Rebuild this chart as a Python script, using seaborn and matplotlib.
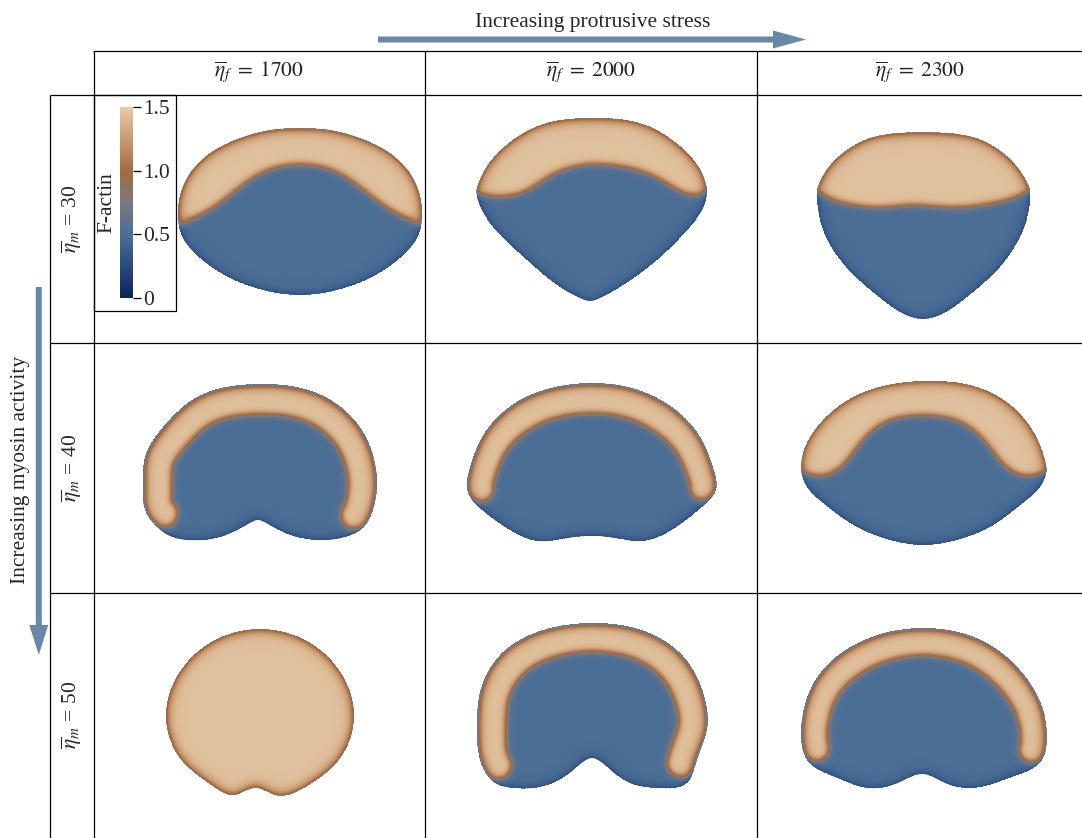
import numpy as np
import matplotlib
matplotlib.use("Agg")
import matplotlib.pyplot as plt
import seaborn as sns
from matplotlib.path import Path
from matplotlib.patches import Rectangle, FancyArrow
from matplotlib.cm import ScalarMappable
from matplotlib.colors import Normalize

sns.set_theme(style="white")
plt.rcParams["font.family"] = ["Liberation Serif", "DejaVu Serif"]
plt.rcParams["mathtext.fontset"] = "stix"

# ---------------------------------------------------------------- parameters
eta_f = [1700, 2000, 2300]          # protrusive stress (columns)
eta_m = [30, 40, 50]                # myosin activity (rows)
cbar_ticks = [0, 0.5, 1.0, 1.5]
cbar_ticklabels = ["0", "0.5", "1.0", "1.5"]
actin_front = 1.45                  # F-actin level in the protrusive region
actin_rear = 0.5                    # F-actin level in the cell body

# steady-state cell outlines (panel-local units, y downwards);
# corner_* lists the indices of pointed tips
outline_30_1700 = [(207, 34), (237, 36), (267, 44), (297, 59), (317, 79), (324, 92),
                   (329, 122), (324, 143), (307, 163), (277, 183), (244, 195), (207, 200),
                   (170, 195), (137, 183), (107, 163), (90, 143), (85, 122), (90, 92),
                   (97, 79), (117, 59), (147, 44), (177, 36)]
corner_30_1700 = [6, 16]
outline_30_2000 = [(167, 24), (218, 30), (255, 52), (275, 75), (282, 95), (279, 112),
                   (265, 132), (232, 165), (195, 192), (175, 203), (165, 206), (155, 203),
                   (135, 192), (102, 165), (68, 132), (55, 112), (51, 97), (62, 72),
                   (85, 48), (118, 30)]
corner_30_2000 = [4, 16]
outline_30_2300 = [(166, 38), (191, 39), (216, 43), (241, 55), (258, 70), (273, 95),
                   (272, 115), (263, 142), (243, 172), (210, 202), (183, 220), (166, 224),
                   (149, 220), (122, 202), (89, 172), (69, 142), (61, 115), (60, 95),
                   (74, 70), (91, 55), (116, 43), (141, 39)]
corner_30_2300 = [5, 17]
outline_40_1700 = [(165, 41), (224, 50), (264, 80), (282, 120), (284, 144), (280, 167),
                   (270, 185), (252, 194), (234, 197), (204, 194), (180, 184), (169, 178),
                   (165, 177), (161, 178), (150, 184), (127, 194), (94, 197), (77, 193),
                   (64, 184), (52, 167), (50, 144), (52, 114), (70, 84), (104, 54)]
corner_40_1700 = []
outline_40_2000 = [(167, 40), (203, 44), (247, 64), (277, 97), (288, 124), (291, 147),
                   (277, 164), (257, 180), (217, 198), (190, 195), (167, 193), (143, 195),
                   (113, 198), (80, 184), (57, 167), (43, 150), (45, 124), (57, 94),
                   (90, 60), (130, 44)]
corner_40_2000 = []
outline_40_2300 = [(166, 38), (233, 49), (266, 74), (286, 110), (290, 127), (283, 144),
                   (266, 160), (233, 184), (200, 197), (166, 202), (133, 197), (100, 184),
                   (66, 160), (50, 144), (44, 127), (46, 110), (66, 77), (100, 52)]
corner_40_2300 = [4, 14]
outline_50_1700 = [(261, 126), (248, 82), (214, 50), (167, 38), (120, 50), (86, 82),
                   (73, 126), (86, 165), (118, 193), (142, 203), (162, 196), (182, 203),
                   (216, 193), (248, 165)]
corner_50_1700 = []
outline_50_2000 = [(167, 32), (222, 41), (258, 65), (278, 101), (282, 138), (272, 168),
                   (262, 191), (232, 196), (205, 191), (182, 175), (171, 167), (167, 166),
                   (163, 167), (152, 175), (128, 191), (88, 196), (70, 191), (55, 168),
                   (52, 138), (55, 101), (78, 61), (112, 41)]
corner_50_2000 = []
outline_50_2300 = [(165, 37), (228, 51), (268, 85), (286, 118), (290, 145), (285, 168),
                   (255, 185), (215, 196), (188, 191), (171, 183), (165, 182), (159, 183),
                   (141, 191), (111, 196), (78, 185), (50, 168), (44, 145), (46, 121),
                   (61, 85), (95, 55)]
corner_50_2300 = []

# rear edge of the F-actin cap for the low-myosin cells (x, y)
inner_30_1700 = [(84, 130), (97, 125), (117, 115), (144, 95), (170, 78), (207, 70),
                 (244, 78), (270, 95), (297, 115), (317, 125), (330, 130)]
inner_30_2000 = [(49, 99), (62, 101), (75, 102), (86, 101), (100, 97), (118, 86),
                 (140, 75), (167, 70), (195, 72), (222, 79), (245, 91), (265, 100),
                 (275, 100), (284, 96)]
inner_30_2300 = [(58, 97), (75, 105), (93, 110), (126, 113), (153, 111), (193, 113),
                 (230, 110), (255, 104), (275, 96)]
inner_40_2300 = [(42, 128), (66, 132), (83, 124), (100, 104), (126, 80), (166, 72),
                 (206, 80), (233, 104), (250, 124), (266, 132), (292, 128)]

# F-actin band along the leading edge for the higher-myosin cells:
# angular extent (degrees) and band thickness along it
front_40_1700, thick_40_1700 = (-28, 208), [28, 30, 30, 30, 28]
front_40_2000, thick_40_2000 = (-12, 192), [26, 30, 30, 30, 26]
front_50_1700, thick_50_1700 = (-90, 270), [250]
front_50_2000, thick_50_2000 = (-29, 211), [28, 30, 28, 30, 28]
front_50_2300, thick_50_2300 = (-18, 198), [26, 28, 27, 28, 26]

outlines = [[outline_30_1700, outline_30_2000, outline_30_2300],
            [outline_40_1700, outline_40_2000, outline_40_2300],
            [outline_50_1700, outline_50_2000, outline_50_2300]]
corners = [[corner_30_1700, corner_30_2000, corner_30_2300],
           [corner_40_1700, corner_40_2000, corner_40_2300],
           [corner_50_1700, corner_50_2000, corner_50_2300]]
caps = {(0, 0): inner_30_1700, (0, 1): inner_30_2000, (0, 2): inner_30_2300,
        (1, 2): inner_40_2300}
bands = {(1, 0): (front_40_1700, thick_40_1700), (1, 1): (front_40_2000, thick_40_2000),
         (2, 0): (front_50_1700, thick_50_1700), (2, 1): (front_50_2000, thick_50_2000),
         (2, 2): (front_50_2300, thick_50_2300)}

cmap = sns.blend_palette(["#0a2456", "#2b4b7d", "#4b6e97", "#7c797e",
                          "#a46a40", "#c99a70", "#e6cba9"], as_cmap=True)
norm = Normalize(0, 1.5)
arrow_col = "#6888a7"


def _spline_eval(P, M, h, n):
    out = []
    for i in range(len(h)):
        t = np.linspace(0, h[i], n, endpoint=False)[:, None]
        hi = h[i]
        s = (M[i] * (hi - t) ** 3 / (6 * hi) + M[i + 1] * t ** 3 / (6 * hi)
             + (P[i] / hi - M[i] * hi / 6) * (hi - t) + (P[i + 1] / hi - M[i + 1] * hi / 6) * t)
        out.append(s)
    return np.vstack(out)


def spline_open(pts, n=20, runout=False):
    P = np.asarray(pts, float)
    k = len(P)
    h = np.hypot(*np.diff(P, axis=0).T)
    A = np.zeros((k, k))
    B = np.zeros((k, 2))
    A[0, 0] = A[-1, -1] = 1
    if runout and k > 3:
        A[0, 1] = A[-1, -2] = -1
    for i in range(1, k - 1):
        A[i, i - 1], A[i, i], A[i, i + 1] = h[i - 1], 2 * (h[i - 1] + h[i]), h[i]
        B[i] = 6 * ((P[i + 1] - P[i]) / h[i] - (P[i] - P[i - 1]) / h[i - 1])
    M = np.linalg.solve(A, B)
    return np.vstack([_spline_eval(P, M, h, n), P[-1:]])


def spline_closed(pts, n=20):
    P = np.asarray(pts, float)
    k = len(P)
    Pn = np.vstack([P, P[:1]])
    h = np.hypot(*np.diff(Pn, axis=0).T)
    A = np.zeros((k, k))
    B = np.zeros((k, 2))
    for i in range(k):
        hp, hc = h[i - 1], h[i]
        A[i, (i - 1) % k] += hp
        A[i, i] += 2 * (hp + hc)
        A[i, (i + 1) % k] += hc
        B[i] = 6 * ((P[(i + 1) % k] - P[i]) / hc - (P[i] - P[i - 1]) / hp)
    M = np.linalg.solve(A, B)
    return _spline_eval(Pn, np.vstack([M, M[:1]]), h, n)


def outline_curve(pts, tips):
    if not tips:
        return spline_closed(pts)
    k = len(pts)
    tips = sorted(tips)
    pieces = []
    for j, a in enumerate(tips):
        b = tips[(j + 1) % len(tips)]
        idx = list(range(a, b + 1)) if b > a else list(range(a, k)) + list(range(0, b + 1))
        pieces.append(spline_open([pts[i] for i in idx], runout=True)[:-1])
    return np.vstack(pieces)


def min_dist(G, Q, R=None, step=4000):
    out = np.empty(len(G))
    for s in range(0, len(G), step):
        d = np.sqrt(((G[s:s + step, None, :] - Q[None]) ** 2).sum(-1))
        if R is not None:
            d = d - R[None]
        out[s:s + step] = d.min(1)
    return out


def actin_field(outline, tips, w, h, cap=None, band=None):
    P = outline_curve(outline, tips)
    path = Path(P)
    X, Y = np.meshgrid(np.arange(w) + 0.5, np.arange(h) + 0.5)
    G = np.column_stack([X.ravel(), Y.ravel()])
    inside = path.contains_points(G)
    sd = np.where(inside, 1, -1) * min_dist(G, P)
    if cap is not None:
        Q = spline_open(cap)
        order = np.argsort(Q[:, 0])
        gy = np.interp(G[:, 0], Q[order, 0], Q[order, 1])
        d_band = min_dist(G, Q) * np.where(G[:, 1] < gy, -1, 1)
    else:
        front, thick = band
        x, y = P[:, 0], P[:, 1]
        cross = x * np.roll(y, -1) - np.roll(x, -1) * y
        area = cross.sum() / 2
        cx = ((x + np.roll(x, -1)) * cross).sum() / (6 * area)
        cy = ((y + np.roll(y, -1)) * cross).sum() / (6 * area)
        T = np.roll(P, -1, 0) - np.roll(P, 1, 0)
        nrm = np.column_stack([T[:, 1], -T[:, 0]]) / np.hypot(T[:, 0], T[:, 1])[:, None]
        flip = ~path.contains_points(P + 3 * nrm)
        nrm[flip] *= -1
        a0, a1 = front
        phi = np.degrees(np.arctan2(-(y - cy), x - cx))
        phi = (phi - a0) % 360 + a0
        sel = phi <= a1
        u = (phi[sel] - a0) / (a1 - a0)
        wid = np.interp(u, np.linspace(0, 1, len(thick)), thick)
        C = P[sel] + nrm[sel] * wid[:, None] / 2
        d_band = min_dist(G, C, wid / 2)
    frac = 1 / (1 + np.exp(np.clip(d_band / 2.0, -50, 50)))
    v = actin_rear + (actin_front - actin_rear) * frac
    v = v * (1 - 0.45 * np.exp(-np.clip(sd, 0, None) / 4.0))
    alpha = np.clip(sd + 0.5, 0, 1)
    return v.reshape(h, w), alpha.reshape(h, w)


W, H = 1082, 838
fig = plt.figure(figsize=(W / 100, H / 100), dpi=100)
fig.patch.set_facecolor("white")


def px_axes(x0, y0, w, h):
    return fig.add_axes([x0 / W, 1 - (y0 + h) / H, w / W, h / H])


col_x = [93, 425, 757]
col_w = [332, 332, 325]
row_y = [95, 343, 592]
row_h = [248, 249, 246]

for r in range(3):
    for c in range(3):
        w, h = col_w[c], row_h[r]
        ax = px_axes(col_x[c], row_y[r], w, h)
        v, a = actin_field(outlines[r][c], corners[r][c], w, h,
                           cap=caps.get((r, c)), band=bands.get((r, c)))
        rgba = cmap(norm(v))
        rgba[..., 3] = a
        ax.imshow(rgba, extent=(0, w, h, 0), interpolation="nearest", aspect="auto")
        ax.set_xlim(0, w)
        ax.set_ylim(h, 0)
        ax.axis("off")

# table frame, headers and arrows
ov = fig.add_axes([0, 0, 1, 1])
ov.set_xlim(0, W)
ov.set_ylim(H, 0)
ov.axis("off")
ov.patch.set_alpha(0)
lk = dict(color="black", lw=0.9, solid_capstyle="butt")
ov.plot([93, W], [51, 51], **lk)
for yy in [95.5, 343.5, 592.5]:
    ov.plot([50, W], [yy, yy], **lk)
ov.plot([50, 50], [95.5, H], **lk)
for xx in [93.5, 425, 757]:
    ov.plot([xx, xx], [51, H], **lk)

fs = 15.5
for c, val in enumerate(eta_f):
    ov.text(col_x[c] + col_w[c] / 2, 72, r"$\overline{\eta}_f \;=\; %d$" % val,
            ha="center", va="center", fontsize=fs)
for r, val in enumerate(eta_m):
    ov.text(72, row_y[r] + row_h[r] / 2, r"$\overline{\eta}_m$ = %d" % val,
            ha="center", va="center", rotation=90, fontsize=fs)

ov.text(593, 22, "Increasing protrusive stress", ha="center", va="center", fontsize=fs)
ov.text(21, 470, "Increasing myosin activity", ha="center", va="center",
        rotation=90, fontsize=fs)
ov.add_patch(FancyArrow(378, 39.5, 806 - 378, 0, width=6, head_width=18, head_length=33,
                        length_includes_head=True, color=arrow_col, lw=0))
ov.add_patch(FancyArrow(38.8, 287, 0, 655 - 287, width=6, head_width=19, head_length=30,
                        length_includes_head=True, color=arrow_col, lw=0))

# colour bar in its own framed box
ov.add_patch(Rectangle((93.5, 95.5), 82.5, 215.5, fc="white", ec="black", lw=0.9))
cax = px_axes(119.5, 106.7, 13.8, 191.6)
cb = fig.colorbar(ScalarMappable(norm=norm, cmap=cmap), cax=cax, ticks=cbar_ticks)
cb.outline.set_visible(False)
cax.set_yticklabels(cbar_ticklabels)
cax.tick_params(axis="y", right=True, labelright=True, left=False, direction="out",
                length=6, width=0.9, color="black", labelsize=fs, pad=1)
cax.yaxis.set_label_position("left")
cax.set_ylabel("F-actin", fontsize=fs, labelpad=2)

fig.savefig("out.png", dpi=100, facecolor="white")
